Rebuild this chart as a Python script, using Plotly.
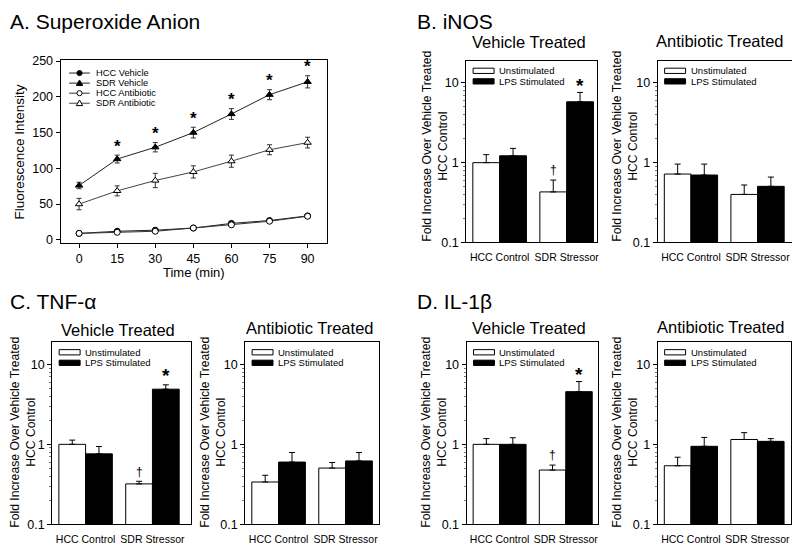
import math
import plotly.graph_objects as go

# The page body has an 8px margin, so the figure starts 8px in from the window corner.
PAGE_MARGIN = 8
W, H = 792, 547
FONT = "Arial, 'Liberation Sans', Helvetica, sans-serif"

# ---------------- DATA ----------------
# Panel A: Superoxide anion
time_min = [0, 15, 30, 45, 60, 75, 90]
hcc_vehicle = [9, 12, 13.5, 16.5, 23, 27, 33.5]
hcc_vehicle_err = [1.5, 1.5, 1.5, 1.5, 1.5, 1.5, 2]
sdr_vehicle = [76, 113, 129.5, 150, 176, 203, 221]
sdr_vehicle_err = [4.5, 5.5, 6.5, 7.5, 7.5, 7, 8.5]
hcc_antibiotic = [9, 10.5, 12, 16.5, 21, 26, 33]
hcc_antibiotic_err = [1.5, 1.5, 1.5, 1.5, 1.5, 1.5, 2]
sdr_antibiotic = [50, 68.5, 83, 95, 110, 126, 136]
sdr_antibiotic_err = [8, 7, 10, 8.5, 8.5, 7, 7.5]
sdr_vehicle_signif = [False, True, True, True, True, True, True]
series_names_A = ["HCC Vehicle", "SDR Vehicle", "HCC Antibiotic", "SDR Antibiotic"]

# Panels B-D: bar groups
groups = ["HCC Control", "SDR Stressor"]
bar_series_names = ["Unstimulated", "LPS Stimulated"]

inos_veh_unstim = [1.0, 0.43]
inos_veh_unstim_upper = [1.26, 0.605]
inos_veh_lps = [1.22, 5.8]
inos_veh_lps_upper = [1.51, 7.6]
inos_ab_unstim = [0.72, 0.40]
inos_ab_unstim_upper = [0.96, 0.525]
inos_ab_lps = [0.70, 0.505]
inos_ab_lps_upper = [0.96, 0.66]

tnf_veh_unstim = [1.0, 0.32]
tnf_veh_unstim_upper = [1.13, 0.345]
tnf_veh_lps = [0.76, 4.9]
tnf_veh_lps_upper = [0.94, 5.55]
tnf_ab_unstim = [0.338, 0.505]
tnf_ab_unstim_upper = [0.41, 0.593]
tnf_ab_lps = [0.60, 0.62]
tnf_ab_lps_upper = [0.79, 0.79]

il1b_veh_unstim = [1.0, 0.477]
il1b_veh_unstim_upper = [1.18, 0.55]
il1b_veh_lps = [1.0, 4.56]
il1b_veh_lps_upper = [1.21, 6.1]
il1b_ab_unstim = [0.54, 1.15]
il1b_ab_unstim_upper = [0.69, 1.40]
il1b_ab_lps = [0.945, 1.09]
il1b_ab_lps_upper = [1.22, 1.18]

y_tick_vals = [0.1, 1, 10]
y_tick_text = ["0.1", "1", "10"]
minor_tick_vals = [0.2, 0.3, 0.4, 0.5, 0.6, 0.7, 0.8, 0.9,
                   2, 3, 4, 5, 6, 7, 8, 9]
x_ticks_A = [0, 15, 30, 45, 60, 75, 90]
y_ticks_A = [0, 50, 100, 150, 200, 250]

# ---------------- LAYOUT HELPERS ----------------
def fx(p):
    """window pixel x -> paper fraction"""
    return (p - PAGE_MARGIN) / W


def fy(p):
    """window pixel y -> paper fraction"""
    return 1 - (p - PAGE_MARGIN) / H


BARGAP = 0.2
HALF_OFFSET = (1 - BARGAP) / 4  # centre offset of each bar in a 2-bar group

bar_panels = [
    dict(k=2, box=(467.3, 55.7, 598.3, 242.0), xr=1.45, sub="Vehicle Treated",
         ytc=(436, 143), tc=(530, 36.5),
         d=(inos_veh_unstim, inos_veh_unstim_upper, inos_veh_lps, inos_veh_lps_upper), marks=True,
         dag_shift=10, star_shift=7),
    dict(k=3, box=(659.3, 55.7, 795.5, 242.0), xr=1.54, sub="Antibiotic Treated",
         ytc=(626.5, 143), tc=(722, 35.5),
         d=(inos_ab_unstim, inos_ab_unstim_upper, inos_ab_lps, inos_ab_lps_upper), marks=False),
    dict(k=4, box=(52.3, 344.0, 191.0, 530.7), xr=1.57, sub="Vehicle Treated",
         ytc=(23, 436), tc=(118.5, 331.5),
         d=(tnf_veh_unstim, tnf_veh_unstim_upper, tnf_veh_lps, tnf_veh_lps_upper), marks=True,
         dag_shift=9, star_shift=9),
    dict(k=5, box=(245.7, 344.0, 380.0, 530.7), xr=1.50, sub="Antibiotic Treated",
         ytc=(213.5, 436), tc=(311, 330),
         d=(tnf_ab_unstim, tnf_ab_unstim_upper, tnf_ab_lps, tnf_ab_lps_upper), marks=False),
    dict(k=6, box=(467.7, 344.0, 599.0, 530.7), xr=1.48, sub="Vehicle Treated",
         ytc=(435, 436), tc=(530, 330),
         d=(il1b_veh_unstim, il1b_veh_unstim_upper, il1b_veh_lps, il1b_veh_lps_upper), marks=True,
         dag_shift=10, star_shift=7),
    dict(k=7, box=(659.3, 344.0, 792.7, 530.7), xr=1.50, sub="Antibiotic Treated",
         ytc=(626.5, 436), tc=(722.5, 328.5),
         d=(il1b_ab_unstim, il1b_ab_unstim_upper, il1b_ab_lps, il1b_ab_lps_upper), marks=False),
]

box_A = (60.7, 55.5, 327.7, 242.7)

fig = go.Figure()
layout = dict(
    width=W, height=H, margin=dict(l=0, r=0, t=0, b=0),
    paper_bgcolor="white", plot_bgcolor="white",
    font=dict(family=FONT, color="black", size=12),
    showlegend=False, barmode="group", bargap=BARGAP, bargroupgap=0,
)
annotations = []
shapes = []

# ---------------- PANEL A ----------------
l, t, r, b = box_A
layout["xaxis"] = dict(domain=[fx(l), fx(r)], anchor="y", range=[-7.3, 97.6],
                       tickmode="array", tickvals=x_ticks_A, ticks="outside", ticklen=4,
                       tickcolor="black", showline=True, mirror=True, linecolor="black",
                       linewidth=1, showgrid=False, zeroline=False, tickfont=dict(size=12.5))
layout["yaxis"] = dict(domain=[fy(b), fy(t)], anchor="x", range=[-4.6, 251],
                       tickmode="array", tickvals=y_ticks_A, ticks="outside", ticklen=4,
                       tickcolor="black", showline=True, mirror=True, linecolor="black",
                       linewidth=1, showgrid=False, zeroline=False, tickfont=dict(size=12.5))

series_A = [
    (hcc_vehicle, hcc_vehicle_err, "circle", "black", "#222222"),
    (sdr_vehicle, sdr_vehicle_err, "triangle-up", "black", "#222222"),
    (hcc_antibiotic, hcc_antibiotic_err, "circle", "white", "#333333"),
    (sdr_antibiotic, sdr_antibiotic_err, "triangle-up", "white", "#444444"),
]
for name, (vals, errs, sym, fill, lc) in zip(series_names_A, series_A):
    fig.add_trace(go.Scatter(
        x=time_min, y=vals, name=name, mode="lines+markers",
        line=dict(color=lc, width=1),
        marker=dict(symbol=sym, size=6.5 if "triangle" in sym else 6, color=fill,
                    line=dict(color="black", width=1)),
        error_y=dict(type="data", array=errs, color="#333333", thickness=1, width=2.5),
        xaxis="x", yaxis="y", showlegend=False,
    ))

for xv, yv, ev, sig in zip(time_min, sdr_vehicle, sdr_vehicle_err, sdr_vehicle_signif):
    if sig:
        annotations.append(dict(x=xv, y=yv + ev, xref="x", yref="y", text="<b>*</b>",
                                showarrow=False, yanchor="middle", yshift=9,
                                font=dict(size=17, color="black")))

# legend for panel A (layout decoration)
leg_y0 = 68.5
for i, (name, (vals, errs, sym, fill, lc)) in enumerate(zip(series_names_A, series_A)):
    cy = leg_y0 + i * 10.3
    shapes.append(dict(type="line", xref="paper", yref="paper",
                       x0=fx(69.3), x1=fx(90), y0=fy(cy), y1=fy(cy),
                       line=dict(color=lc, width=1)))
    cx = 79.7
    if sym == "circle":
        shapes.append(dict(type="circle", xref="paper", yref="paper",
                           x0=fx(cx - 2.6), x1=fx(cx + 2.6), y0=fy(cy + 2.6), y1=fy(cy - 2.6),
                           fillcolor=fill, line=dict(color="black", width=1)))
    else:
        path = "M {} {} L {} {} L {} {} Z".format(
            fx(cx), fy(cy - 3.2), fx(cx - 3.2), fy(cy + 2.4), fx(cx + 3.2), fy(cy + 2.4))
        shapes.append(dict(type="path", xref="paper", yref="paper", path=path,
                           fillcolor=fill, line=dict(color="black", width=1)))
    annotations.append(dict(x=fx(94.3), y=fy(cy), xref="paper", yref="paper", text=name,
                            showarrow=False, xanchor="left", yanchor="middle",
                            font=dict(size=9.3)))

annotations.append(dict(x=fx(194), y=fy(273), xref="paper", yref="paper", text="Time (min)",
                        showarrow=False, xanchor="center", yanchor="middle", font=dict(size=13)))
annotations.append(dict(x=fx(20), y=fy(149), xref="paper", yref="paper",
                        text="Fluorescence Intensity", textangle=-90, showarrow=False,
                        xanchor="center", yanchor="middle", font=dict(size=13.5)))

# ---------------- BAR PANELS ----------------
for p in bar_panels:
    k = p["k"]
    l, t, r, b = p["box"]
    unstim, unstim_up, lps, lps_up = p["d"]
    xa, ya = "x%d" % k, "y%d" % k
    layout["xaxis%d" % k] = dict(domain=[fx(l), fx(r)], anchor=ya, type="category",
                                 range=[-0.5, p["xr"]], ticks="", ticklabelstandoff=5,
                                 showline=True, mirror=True,
                                 linecolor="black", linewidth=1, showgrid=False,
                                 zeroline=False, tickfont=dict(size=10.5))
    layout["yaxis%d" % k] = dict(domain=[fy(b), fy(t)], anchor=xa, type="log",
                                 range=[-1, 1.28], tickmode="array", tickvals=y_tick_vals,
                                 ticktext=y_tick_text, ticks="outside", ticklen=4,
                                 tickcolor="black", showline=True, mirror=True,
                                 linecolor="black", linewidth=1, showgrid=False,
                                 zeroline=False, tickfont=dict(size=12.5),
                                 minor=dict(tickmode="array", tickvals=minor_tick_vals,
                                            ticks="outside", ticklen=2, tickcolor="#777777",
                                            showgrid=False))
    for name, vals, ups, fill in ((bar_series_names[0], unstim, unstim_up, "white"),
                                  (bar_series_names[1], lps, lps_up, "black")):
        fig.add_trace(go.Bar(
            x=groups, y=vals, name=name, xaxis=xa, yaxis=ya,
            marker=dict(color=fill, line=dict(color="black", width=1)),
            error_y=dict(type="data", symmetric=False,
                         array=[u - v for u, v in zip(ups, vals)],
                         arrayminus=[0 for _ in vals],
                         color="black", thickness=1, width=3),
            showlegend=False,
        ))
    if p["marks"]:
        annotations.append(dict(x=1 - HALF_OFFSET, y=math.log10(unstim_up[1]), xref=xa, yref=ya,
                                text="†", showarrow=False, yanchor="middle",
                                yshift=p["dag_shift"], font=dict(size=12, color="black")))
        annotations.append(dict(x=1 + HALF_OFFSET, y=math.log10(lps_up[1]), xref=xa, yref=ya,
                                text="<b>*</b>", showarrow=False, yanchor="middle",
                                yshift=p["star_shift"], font=dict(size=19, color="black")))
    annotations.append(dict(x=fx(p["tc"][0]), y=fy(p["tc"][1]), xref="paper", yref="paper",
                            text=p["sub"], showarrow=False, xanchor="center", yanchor="middle",
                            font=dict(size=16.5)))
    annotations.append(dict(x=fx(p["ytc"][0]), y=fy(p["ytc"][1]), xref="paper", yref="paper",
                            text="Fold Increase Over Vehicle Treated<br>HCC Control",
                            textangle=-90, showarrow=False, xanchor="center", yanchor="middle",
                            font=dict(size=12.2)))
    for i, (name, fill) in enumerate(zip(bar_series_names, ["white", "black"])):
        cy = t + 10.5 + i * 10.8
        shapes.append(dict(type="rect", xref="paper", yref="paper",
                           x0=fx(l + 7), x1=fx(l + 28), y0=fy(cy + 2.7), y1=fy(cy - 2.7),
                           fillcolor=fill, line=dict(color="black", width=1)))
        annotations.append(dict(x=fx(l + 31), y=fy(cy), xref="paper", yref="paper", text=name,
                                showarrow=False, xanchor="left", yanchor="middle",
                                font=dict(size=9.5)))

# panel letters
for txt, xpx, ypx in (("A. Superoxide Anion", 8, 15.5), ("B. iNOS", 416, 16),
                      ("C. TNF-α", 8, 303), ("D. IL-1β", 416, 302)):
    annotations.append(dict(x=fx(xpx), y=fy(ypx), xref="paper", yref="paper", text=txt,
                            showarrow=False, xanchor="left", yanchor="middle",
                            font=dict(size=21)))

layout["annotations"] = annotations
layout["shapes"] = shapes
fig.update_layout(**layout)
fig.write_html("out.html")
